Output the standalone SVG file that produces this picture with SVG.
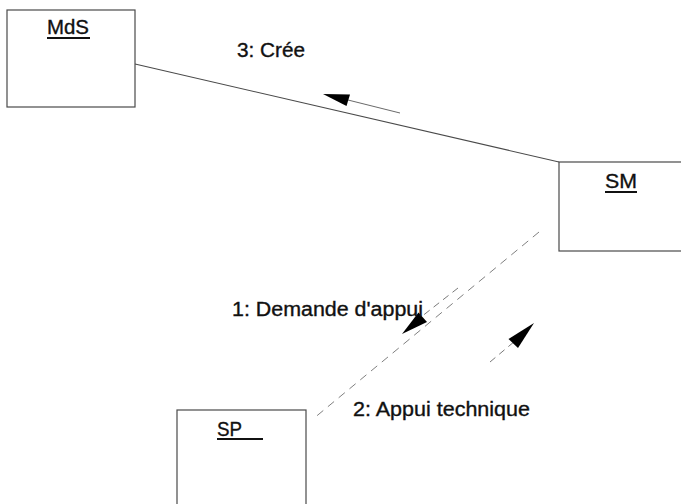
<svg xmlns="http://www.w3.org/2000/svg" width="681" height="504" viewBox="0 0 681 504">
  <style>
    .box { fill: #ffffff; stroke: #4a4a4a; stroke-width: 1.2; }
    .name { font-family: "Liberation Sans", Arial, sans-serif; font-size: 20px; fill: #111111; stroke: #111111; stroke-width: 0.35; }
    .uline { stroke: #111111; stroke-width: 2; }
    .label { font-family: "Liberation Sans", Arial, sans-serif; font-size: 20px; fill: #111111; stroke: #111111; stroke-width: 0.35; }
    .link { stroke: #4a4a4a; stroke-width: 1.1; fill: none; }
    .dlink { stroke: #808080; stroke-width: 1; fill: none; stroke-dasharray: 8 6; }
    .msg { stroke: #6a6a6a; stroke-width: 1; fill: none; }
    .msgd { stroke: #7a7a7a; stroke-width: 1; fill: none; stroke-dasharray: 7 5; }
    .head { fill: #000000; }
  </style>

  <g id="connectors">
    <!-- association MdS - SM -->
    <line class="link" x1="135" y1="64" x2="559" y2="162"/>
    <!-- association SM - SP -->
    <line class="dlink" x1="539" y1="232" x2="313" y2="419"/>

    <!-- message 3: SM creates MdS -->
    <line class="msg" x1="400" y1="113" x2="348" y2="100"/>
    <polygon class="head" points="323,94 350,94.5 346.5,106"/>

    <!-- message 1: request to SP -->
    <line class="msgd" x1="458" y1="288" x2="421" y2="317"/>
    <polygon class="head" points="402,334 418.5,312.5 427,322"/>

    <!-- message 2: reply to SM -->
    <line class="msgd" x1="490" y1="362" x2="515" y2="341"/>
    <polygon class="head" points="534,323 518,348 508.5,339"/>
  </g>

  <g id="label-3">
    <text class="label" x="237" y="57" textLength="68" lengthAdjust="spacingAndGlyphs">3: Crée</text>
  </g>
  <g id="label-1">
    <text class="label" x="232" y="316" textLength="191" lengthAdjust="spacingAndGlyphs">1: Demande d'appui</text>
  </g>
  <g id="label-2">
    <text class="label" x="353" y="416" textLength="177" lengthAdjust="spacingAndGlyphs">2: Appui technique</text>
  </g>

  <g id="node-MdS">
    <rect class="box" x="7" y="10" width="128" height="97"/>
    <text class="name" x="47" y="34" textLength="42" lengthAdjust="spacingAndGlyphs">MdS</text>
    <line class="uline" x1="47" y1="38" x2="90" y2="38"/>
  </g>

  <g id="node-SM">
    <rect class="box" x="559" y="162" width="130" height="89"/>
    <text class="name" x="605" y="188" textLength="32" lengthAdjust="spacingAndGlyphs">SM</text>
    <line class="uline" x1="605" y1="192" x2="637" y2="192"/>
  </g>

  <g id="node-SP">
    <rect class="box" x="177" y="410" width="129" height="110"/>
    <text class="name" x="217" y="436" textLength="25" lengthAdjust="spacingAndGlyphs">SP</text>
    <line class="uline" x1="217" y1="439" x2="263" y2="439"/>
  </g>
</svg>
